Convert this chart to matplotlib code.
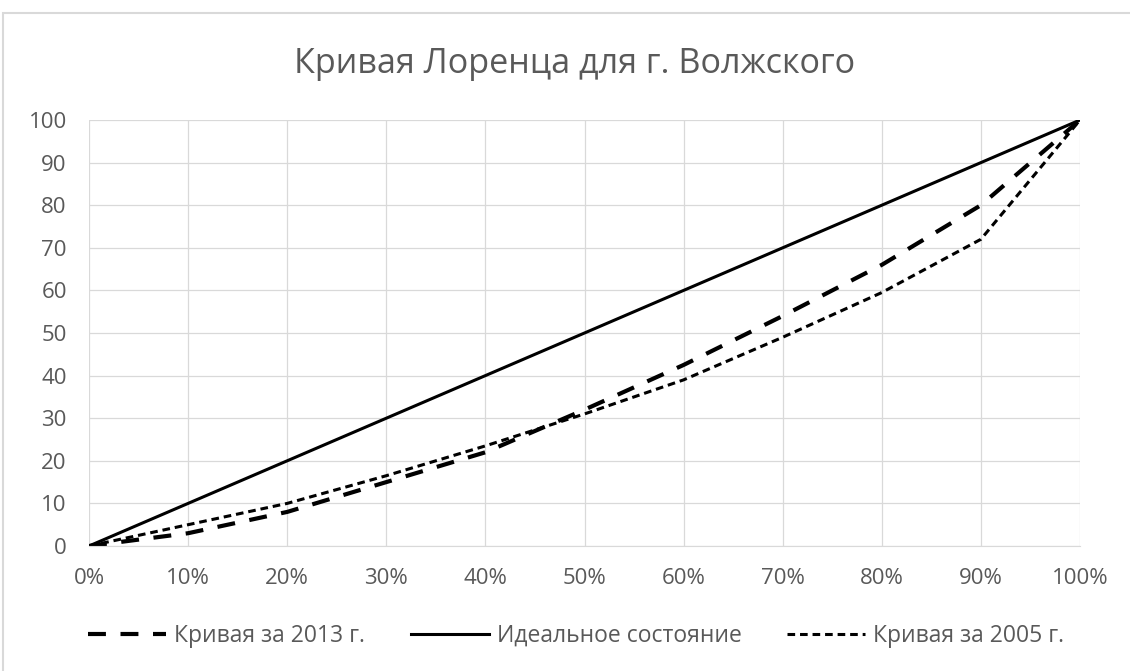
import matplotlib.pyplot as plt
from matplotlib.patches import Rectangle
from matplotlib.ticker import FuncFormatter

plt.rcParams['font.family'] = ['Open Sans', 'DejaVu Sans']

share_pop = [0, 10, 20, 30, 40, 50, 60, 70, 80, 90, 100]
curve_2013 = [0, 3, 8, 15, 22, 32, 42.5, 54, 66, 80, 100]
curve_2005 = [0, 5, 10, 16.5, 23.5, 31, 39, 49, 59.5, 72, 100]
ideal = [0, 10, 20, 30, 40, 50, 60, 70, 80, 90, 100]

title = "Кривая Лоренца для г. Волжского"
labels = ["Кривая за 2013 г.", "Идеальное состояние", "Кривая за 2005 г."]

grey = '#595959'

fig = plt.figure(figsize=(11.3, 6.71), dpi=100)
# chart area border (Excel style)
fig.patches.append(Rectangle((3 / 1130, -0.1), 1.2, 1 - 13 / 671 + 0.1,
                             transform=fig.transFigure, fill=False,
                             edgecolor='#d9d9d9', linewidth=1.5))

ax = fig.add_axes([89 / 1130, 1 - 546 / 671, (1080 - 89) / 1130, (546 - 120) / 671])

l1, = ax.plot(share_pop, curve_2013, color='black', lw=3, dashes=(4.3, 3.5), label=labels[0])
l2, = ax.plot(share_pop, ideal, color='black', lw=2.2, label=labels[1])
l3, = ax.plot(share_pop, curve_2005, color='black', lw=2.2, dashes=(2.5, 1.6), label=labels[2])

ax.set_xlim(0, 100)
ax.set_ylim(0, 100)
ax.set_xticks(range(0, 101, 10))
ax.set_yticks(range(0, 101, 10))
ax.xaxis.set_major_formatter(FuncFormatter(lambda v, p: f"{int(v)}%"))
ax.grid(True, color='#d9d9d9', lw=0.9)
ax.set_axisbelow(True)
for s in ['top', 'right', 'left']:
    ax.spines[s].set_visible(False)
ax.spines['bottom'].set_color('#d9d9d9')
ax.tick_params(length=0, labelsize=16, colors=grey)
ax.tick_params(axis='y', pad=16)
ax.tick_params(axis='x', pad=16)

fig.text(575 / 1130, 1 - 64 / 671, title, ha='center', va='center', fontsize=24.6, color=grey)

fig.legend(handles=[l1, l2, l3], loc='center', bbox_to_anchor=(0.51, 1 - 636 / 671),
           ncol=3, frameon=False, fontsize=16.5, labelcolor=grey,
           handlelength=3.4, columnspacing=2.0, handletextpad=0.35)

fig.savefig("out.png", dpi=100)
